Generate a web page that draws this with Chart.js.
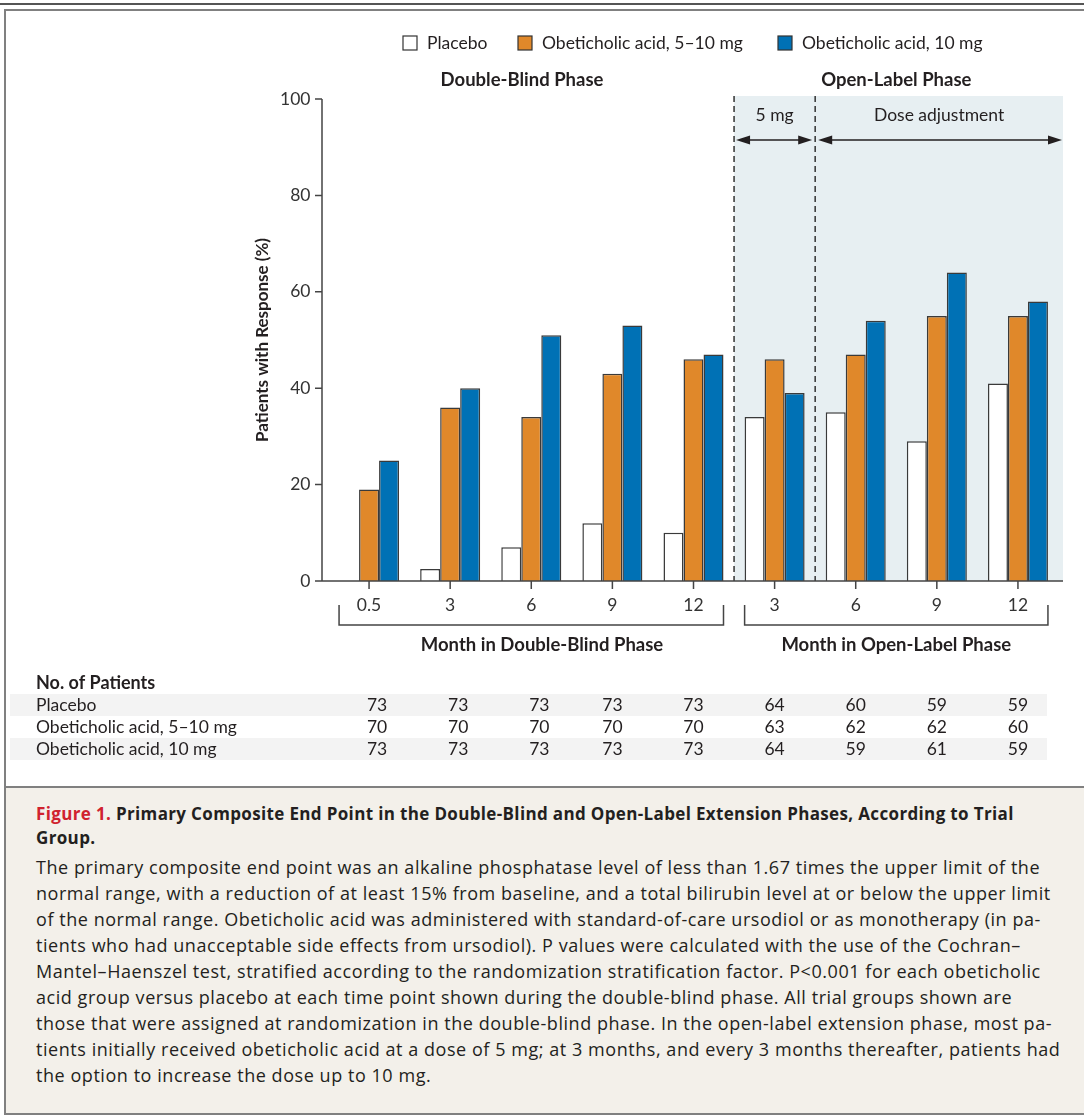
<!DOCTYPE html>
<html>
<head>
<meta charset="utf-8">
<script src="https://cdn.jsdelivr.net/npm/chart.js@4.4.1/dist/chart.umd.min.js"></script>
<style>
body{margin:0;width:1084px;height:1117px;position:relative;background:#fff;font-family:Lato,sans-serif;color:#231f20;overflow:hidden}
#topline{position:absolute;left:0;top:3px;width:1084px;height:2px;background:#555}
#frame{position:absolute;left:4px;top:9px;width:1090px;height:1106px;border:2px solid #808080;box-sizing:border-box}
#chart{position:absolute;left:0;top:0}
#caption{position:absolute;left:4px;top:786px;width:1090px;height:329px;box-sizing:border-box;background:#f3f0ea;border:2px solid #808080;padding:14px 0 0 30px;white-space:nowrap;font-family:"Open Sans",sans-serif}
#caption .t{font-weight:bold;font-size:17px;line-height:24px;letter-spacing:0.35px}
#caption .t span{color:#d0222e}
#caption .b{font-size:18px;line-height:26px;margin-top:4px;letter-spacing:0.55px}
</style>
</head>
<body>
<div id="topline"></div>
<div id="frame"></div>
<canvas id="chart" width="1084" height="787"></canvas>
<div id="caption">
<div class="t"><span>Figure 1.</span> Primary Composite End Point in the Double-Blind and Open-Label Extension Phases, According to Trial<br>Group.</div>
<div class="b">The primary composite end point was an alkaline phosphatase level of less than 1.67 times the upper limit of the<br>normal range, with a reduction of at least 15% from baseline, and a total bilirubin level at or below the upper limit<br>of the normal range. Obeticholic acid was administered with standard-of-care ursodiol or as monotherapy (in pa-<br>tients who had unacceptable side effects from ursodiol). P values were calculated with the use of the Cochran–<br>Mantel–Haenszel test, stratified according to the randomization stratification factor. P&lt;0.001 for each obeticholic<br>acid group versus placebo at each time point shown during the double-blind phase. All trial groups shown are<br>those that were assigned at randomization in the double-blind phase. In the open-label extension phase, most pa-<br>tients initially received obeticholic acid at a dose of 5 mg; at 3 months, and every 3 months thereafter, patients had<br>the option to increase the dose up to 10 mg.</div>
</div>
<script>
const months = ['0.5', '3', '6', '9', '12', '3', '6', '9', '12'];
const placebo = [0, 2.5, 7, 12, 10, 34, 35, 29, 41];
const oca5to10 = [19, 36, 34, 43, 46, 46, 47, 55, 55];
const oca10 = [25, 40, 51, 53, 47, 39, 54, 64, 58];
const yTicks = [0, 20, 40, 60, 80, 100];
const groupNames = ['Placebo', 'Obeticholic acid, 5\u201310 mg', 'Obeticholic acid, 10 mg'];
const nPlacebo = [73, 73, 73, 73, 73, 64, 60, 59, 59];
const nOca5to10 = [70, 70, 70, 70, 70, 63, 62, 62, 60];
const nOca10 = [73, 73, 73, 73, 73, 64, 59, 61, 59];

const colors = ['#ffffff', '#e0882a', '#0071b5'];
const ink = '#231f20';
const font = 'Lato, sans-serif';

function arrow(ctx, x1, x2, y) {
    ctx.beginPath();
    ctx.moveTo(x1 + 10, y); ctx.lineTo(x2 - 10, y); ctx.stroke();
    ctx.beginPath();
    ctx.moveTo(x1, y); ctx.lineTo(x1 + 14, y - 4.5); ctx.lineTo(x1 + 14, y + 4.5); ctx.closePath(); ctx.fill();
    ctx.beginPath();
    ctx.moveTo(x2, y); ctx.lineTo(x2 - 14, y - 4.5); ctx.lineTo(x2 - 14, y + 4.5); ctx.closePath(); ctx.fill();
}

const extras = {
    id: 'extras',
    beforeDatasetsDraw(chart) {
        const ctx = chart.ctx, a = chart.chartArea, x = chart.scales.x;
        const b1 = x.getPixelForValue(4.5), b2 = x.getPixelForValue(5.5);
        ctx.save();
        ctx.fillStyle = '#e7eff2';
        ctx.fillRect(b1, a.top - 3, a.right + 4.5 - b1, a.bottom - a.top + 3);
        ctx.strokeStyle = '#333';
        ctx.lineWidth = 1.5;
        ctx.setLineDash([6, 4]);
        [b1, b2].forEach(function (px) {
            ctx.beginPath(); ctx.moveTo(px, a.top - 3); ctx.lineTo(px, a.bottom); ctx.stroke();
        });
        ctx.restore();
    },
    afterDraw(chart) {
        const ctx = chart.ctx, a = chart.chartArea, x = chart.scales.x, y = chart.scales.y;
        const b1 = x.getPixelForValue(4.5), b2 = x.getPixelForValue(5.5);
        const axX = a.left - 6.5, y0 = y.getPixelForValue(0);
        ctx.save();
        ctx.strokeStyle = '#444';
        ctx.fillStyle = '#333';
        ctx.lineWidth = 1.5;
        // axes
        ctx.beginPath();
        ctx.moveTo(axX, y.getPixelForValue(100)); ctx.lineTo(axX, y0);
        ctx.moveTo(axX - 7, y0); ctx.lineTo(a.right + 4.5, y0);
        yTicks.forEach(function (v) {
            ctx.moveTo(axX - 7, y.getPixelForValue(v)); ctx.lineTo(axX, y.getPixelForValue(v));
        });
        months.forEach(function (m, i) {
            ctx.moveTo(x.getPixelForValue(i), y0); ctx.lineTo(x.getPixelForValue(i), y0 + 8);
        });
        ctx.stroke();

        // brackets under month labels
        const bw = 30;
        [[0, 4], [5, 8]].forEach(function (r) {
            const l = x.getPixelForValue(r[0]) - bw, rr = x.getPixelForValue(r[1]) + bw;
            ctx.beginPath();
            ctx.moveTo(l, 605); ctx.lineTo(l, 625); ctx.lineTo(rr, 625); ctx.lineTo(rr, 605);
            ctx.stroke();
        });

        // arrows in open-label phase
        ctx.fillStyle = '#231f20';
        ctx.strokeStyle = '#231f20';
        arrow(ctx, b1 + 2, b2 - 3, 140);
        arrow(ctx, b2 + 3, a.right + 3.5, 140);

        ctx.fillStyle = ink;
        ctx.textAlign = 'center';
        ctx.textBaseline = 'middle';
        ctx.font = '17.5px ' + font;
        ctx.fillText('5 mg', (b1 + b2) / 2, 115);
        ctx.fillText('Dose adjustment', (b2 + a.right + 4.5) / 2, 115);

        ctx.font = 'bold 18.5px ' + font;
        ctx.fillText('Double-Blind Phase', 522, 80);
        ctx.fillText('Open-Label Phase', (x.getPixelForValue(5) + x.getPixelForValue(8)) / 2, 80);
        ctx.fillText('Month in Double-Blind Phase', 542, 645);
        ctx.fillText('Month in Open-Label Phase', (x.getPixelForValue(5) + x.getPixelForValue(8)) / 2, 645);

        // y axis title
        ctx.save();
        ctx.font = 'bold 17px ' + font;
        ctx.translate(263, (y.getPixelForValue(0) + y.getPixelForValue(100)) / 2);
        ctx.rotate(-Math.PI / 2);
        ctx.fillText('Patients with Response (%)', 0, 0);
        ctx.restore();

        // legend
        const legX = [403, 518, 778];
        ctx.textAlign = 'left';
        ctx.font = '17.5px ' + font;
        groupNames.forEach(function (g, i) {
            ctx.fillStyle = colors[i];
            ctx.fillRect(legX[i], 36, 14, 14);
            ctx.lineWidth = 1.2;
            ctx.strokeStyle = '#333';
            ctx.strokeRect(legX[i], 36, 14, 14);
            ctx.fillStyle = ink;
            ctx.fillText(g, legX[i] + 24, 43);
        });

        // number of patients table
        const rows = [nPlacebo, nOca5to10, nOca10];
        ctx.fillStyle = '#f3f3f3';
        ctx.fillRect(10, 694, 1037, 22);
        ctx.fillRect(10, 738, 1037, 22);
        ctx.fillStyle = ink;
        ctx.font = 'bold 18px ' + font;
        ctx.fillText('No. of Patients', 36, 683);
        ctx.font = '17.5px ' + font;
        rows.forEach(function (row, r) {
            const ty = 705 + r * 22;
            ctx.textAlign = 'left';
            ctx.fillText(groupNames[r], 36, ty);
            ctx.textAlign = 'center';
            row.forEach(function (n, i) {
                ctx.fillText(String(n), x.getPixelForValue(i) + (i < 3 ? 8 : 0), ty);
            });
        });
        ctx.restore();
    }
};

const ctx = document.getElementById('chart').getContext('2d');
const myChart = new Chart(ctx, {
    type: 'bar',
    data: {
        labels: months,
        datasets: [
            { label: groupNames[0], data: placebo, backgroundColor: colors[0] },
            { label: groupNames[1], data: oca5to10, backgroundColor: colors[1] },
            { label: groupNames[2], data: oca10, backgroundColor: colors[2] }
        ]
    },
    options: {
        responsive: false,
        animation: false,
        layout: { padding: { left: 0, right: 25.5, top: 99, bottom: 0 } },
        datasets: {
            bar: { categoryPercentage: 0.74, barPercentage: 1, borderWidth: 1.5, borderColor: '#3a3a3a', borderSkipped: 'bottom' }
        },
        plugins: {
            legend: { display: false },
            tooltip: { enabled: false }
        },
        scales: {
            x: {
                grid: { display: false, drawTicks: false },
                border: { display: false },
                ticks: { padding: 14, color: '#333', maxRotation: 0, font: { family: font, size: 17.5 } },
                afterFit: function (s) { s.height = 206; }
            },
            y: {
                min: 0,
                max: 100,
                afterBuildTicks: function (s) { s.ticks = yTicks.map(function (v) { return { value: v }; }); },
                grid: { display: false, drawTicks: false },
                border: { display: false },
                ticks: { padding: 18, color: '#333', font: { family: font, size: 17.5 } },
                afterFit: function (s) { s.width = 328.5; }
            }
        }
    },
    plugins: [extras]
});
</script>
</body>
</html>
